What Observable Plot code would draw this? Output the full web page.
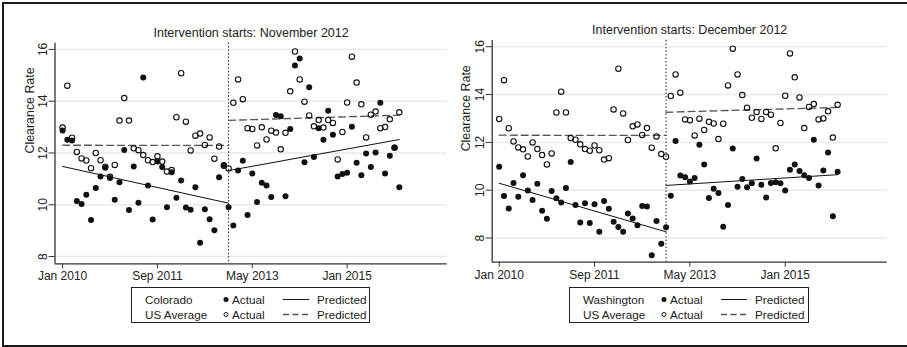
<!DOCTYPE html>
<html>
<head>
<meta charset="utf-8">
<script src="https://cdn.jsdelivr.net/npm/d3@7"></script>
<script src="https://cdn.jsdelivr.net/npm/@observablehq/plot@0.6"></script>
<style>
  html, body { margin: 0; padding: 0; background: #fff; }
  #root { position: relative; width: 907px; height: 347px; overflow: hidden; font-family: "Liberation Sans", Arial, sans-serif; color: #222; }
  .edge { position: absolute; background: #1a1a1a; }
  .panel { position: absolute; top: 0; }
  .legend { position: absolute; border: 1.3px solid #222; box-sizing: border-box; font-size: 11.7px; color: #222; }
  .legend span, .legend svg { position: absolute; white-space: nowrap; }
</style>
</head>
<body>
<div id="root">
  <div class="edge" style="left:2px;top:2px;width:2px;height:345px"></div>
  <div class="edge" style="left:2px;top:2px;width:905px;height:2px"></div>
  <div class="edge" style="left:2px;top:345px;width:905px;height:2px"></div>
</div>
<script>
// ---- data (monthly, Jan 2010 = month 0 ... Dec 2015 = month 71) ----
const startMonth = 0;
const interventionMonth = 35;
const xTickValues = [0, 20, 40, 60];
const xTickLabels = ["Jan 2010", "Sep 2011", "May 2013", "Jan 2015"];
const yTickValues = [8, 10, 12, 14, 16];

const usAverage = [12.98,14.6,12.59,12.04,11.79,11.71,11.41,12.0,11.72,11.47,11.08,11.54,
  13.25,14.12,13.25,12.18,12.11,11.92,11.72,11.65,11.87,11.67,11.28,11.34,
  13.38,15.08,13.21,12.10,12.67,12.75,12.31,12.6,11.78,12.25,11.51,11.40,
  13.94,14.84,14.08,12.96,12.93,12.29,12.99,12.52,12.86,12.79,12.14,12.78,
  14.38,15.92,14.84,13.98,13.45,13.03,13.27,12.98,13.27,13.16,11.75,12.81,
  13.95,15.72,14.72,13.88,12.6,13.48,13.6,12.96,13.0,13.3,12.2,13.57];

const colorado = [12.87,12.51,12.48,10.15,10.03,10.39,9.41,10.65,11.09,11.43,11.03,10.19,
  10.87,12.12,9.80,11.48,10.08,14.92,10.74,9.43,11.67,11.46,9.90,11.26,
  10.27,10.94,9.89,9.81,10.68,8.53,9.83,9.44,9.02,11.06,11.54,9.90,
  9.20,11.32,11.70,9.60,11.21,10.11,10.85,10.74,10.30,13.47,13.42,10.33,
  12.93,15.38,15.65,11.64,14.54,11.84,12.96,12.51,13.63,12.70,11.09,11.19,
  11.24,13.01,11.62,11.14,11.98,11.46,12.02,13.94,11.21,11.89,12.21,10.68];

const washington = [10.98,9.76,9.24,10.30,9.73,10.63,9.99,9.59,10.27,9.14,8.81,9.97,
  9.66,9.49,10.09,11.18,9.38,8.65,9.46,8.63,9.41,8.26,9.55,9.23,
  8.68,8.46,8.26,9.03,8.82,8.53,9.34,9.32,7.28,8.71,7.76,8.45,
  9.77,12.06,10.61,10.54,10.36,10.51,11.90,11.08,9.67,10.06,9.88,8.47,
  9.38,11.74,10.15,10.47,10.12,10.29,11.33,10.23,9.70,10.30,10.33,10.29,
  9.99,10.86,11.07,10.80,10.63,10.51,12.11,10.20,10.82,11.58,8.91,10.77];

// predicted (fitted) lines: [start, end] values for pre (month 0-35) and post (month 35-71)
const segmentMonths = { pre: [0, 35], post: [35, 71] };
const usPredPre = [12.30, 12.29];
const usPredPost = [13.26, 13.46];
const coPredPre = [11.48, 10.06];
const coPredPost = [11.32, 12.52];
const waPredPre = [10.29, 8.26];
const waPredPost = [10.20, 10.65];

const panels = [
  { state: "Colorado", title: "Intervention starts: November 2012", values: colorado,
    pre: coPredPre, post: coPredPost, left: 0, width: 453,
    margin: { left: 54.5, right: 6.3, top: 42.7, bottom: 36.7 },
    xDomain: [-1.6, 81.1], yDomain: [7.72, 16.24], titleDy: -10, labelDx: -25.2,
    legend: { left: 131, width: 239 } },
  { state: "Washington", title: "Intervention starts: December 2012", values: washington,
    pre: waPredPre, post: waPredPost, left: 440, width: 467,
    margin: { left: 51.7, right: 20.3, top: 40, bottom: 38.3 },
    xDomain: [-1.47, 81.4], yDomain: [6.99, 16.26], titleDy: -10.7, labelDx: -25.7,
    legend: { left: 569, width: 240 } }
];

const root = document.getElementById("root");

function toRows(arr) { return arr.map((v, i) => ({ m: startMonth + i, v })); }
function fitRows(pre, post) {
  return [
    { m: segmentMonths.pre[0], v: pre[0], seg: "pre" },
    { m: segmentMonths.pre[1], v: pre[1], seg: "pre" },
    { m: segmentMonths.post[0], v: post[0], seg: "post" },
    { m: segmentMonths.post[1], v: post[1], seg: "post" }
  ];
}

for (const p of panels) {
  const stateRows = toRows(p.values);
  const usRows = toRows(usAverage);
  const height = 300;
  const chart = Plot.plot({
    width: p.width,
    height,
    marginLeft: p.margin.left,
    marginRight: p.margin.right,
    marginTop: p.margin.top,
    marginBottom: p.margin.bottom,
    style: { fontFamily: "'Liberation Sans', Arial, sans-serif", fontSize: "12px", color: "#222", background: "transparent", overflow: "visible" },
    x: { domain: p.xDomain, axis: null },
    y: { domain: p.yDomain, axis: null },
    marks: [
      Plot.ruleY(yTickValues, { stroke: "#e9e9e9", strokeWidth: 1.4 }),
      Plot.ruleX([interventionMonth], { stroke: "#222", strokeWidth: 1, strokeDasharray: "1.5,2" }),
      Plot.line(fitRows(usPredPre, usPredPost), { x: "m", y: "v", z: "seg", stroke: "#555", strokeWidth: 1.3, strokeDasharray: "7,4" }),
      Plot.line(fitRows(p.pre, p.post), { x: "m", y: "v", z: "seg", stroke: "#111", strokeWidth: 1 }),
      Plot.dot(stateRows, { x: "m", y: "v", r: 3, fill: "#111", stroke: "none" }),
      Plot.dot(usRows, { x: "m", y: "v", r: 2.7, fill: "none", stroke: "#111", strokeWidth: 1.1 }),
      Plot.ruleX([p.xDomain[0]], { stroke: "#333", strokeWidth: 1.3 }),
      Plot.ruleY([p.yDomain[0]], { stroke: "#333", strokeWidth: 1.3 }),
      Plot.axisY({ ticks: yTickValues, tickSize: 6, tickPadding: 2, tickRotate: -90, label: null, stroke: "#333", fontSize: 12 }),
      Plot.axisX({ ticks: xTickValues, tickSize: 5, tickPadding: 3, label: null, stroke: "#333",
        tickFormat: d => xTickLabels[xTickValues.indexOf(d)], fontSize: 12 }),
      Plot.text(["Clearance Rate"], { text: d => d, frameAnchor: "left", dx: p.labelDx, rotate: -90, fontSize: 12.4, fill: "#222" }),
      Plot.text([p.title], { text: d => d, frameAnchor: "top", dy: p.titleDy, textAnchor: "middle", lineAnchor: "middle", fontSize: 12.5, fill: "#222" })
    ]
  });
  const wrap = document.createElement("div");
  wrap.className = "panel";
  wrap.style.left = p.left + "px";
  wrap.appendChild(chart);
  root.appendChild(wrap);

  // legend box
  const lg = document.createElement("div");
  lg.className = "legend";
  lg.style.left = p.legend.left + "px";
  lg.style.top = "287px";
  lg.style.width = p.legend.width + "px";
  lg.style.height = "36px";
  const lx = 13, mx = 94, ax = 100, l1 = 151, l2 = 177, px = 185;
  const rowsY = [4.5, 19.5];
  const names = [p.state, "US Average"];
  names.forEach((n, i) => {
    const s = document.createElement("span");
    s.textContent = n; s.style.left = lx + "px"; s.style.top = rowsY[i] + "px";
    lg.appendChild(s);
    const a = document.createElement("span");
    a.textContent = "Actual"; a.style.left = ax + "px"; a.style.top = rowsY[i] + "px";
    lg.appendChild(a);
    const pr = document.createElement("span");
    pr.textContent = "Predicted"; pr.style.left = px + "px"; pr.style.top = rowsY[i] + "px";
    lg.appendChild(pr);
  });
  const ns = "http://www.w3.org/2000/svg";
  const svg = document.createElementNS(ns, "svg");
  svg.setAttribute("width", p.legend.width); svg.setAttribute("height", 36);
  svg.style.left = "0px"; svg.style.top = "0px";
  const c1 = document.createElementNS(ns, "circle");
  c1.setAttribute("cx", mx); c1.setAttribute("cy", 11.5); c1.setAttribute("r", 2.5); c1.setAttribute("fill", "#111");
  const c2 = document.createElementNS(ns, "circle");
  c2.setAttribute("cx", mx); c2.setAttribute("cy", 26.5); c2.setAttribute("r", 2); c2.setAttribute("fill", "none"); c2.setAttribute("stroke", "#111"); c2.setAttribute("stroke-width", 1);
  const ln1 = document.createElementNS(ns, "line");
  ln1.setAttribute("x1", l1); ln1.setAttribute("x2", l2); ln1.setAttribute("y1", 11.5); ln1.setAttribute("y2", 11.5); ln1.setAttribute("stroke", "#111"); ln1.setAttribute("stroke-width", 1);
  const ln2 = document.createElementNS(ns, "line");
  ln2.setAttribute("x1", l1); ln2.setAttribute("x2", l2); ln2.setAttribute("y1", 26.5); ln2.setAttribute("y2", 26.5); ln2.setAttribute("stroke", "#555"); ln2.setAttribute("stroke-width", 1.3); ln2.setAttribute("stroke-dasharray", "6,3.5");
  [c1, c2, ln1, ln2].forEach(e => svg.appendChild(e));
  lg.appendChild(svg);
  root.appendChild(lg);
}
</script>
</body>
</html>
